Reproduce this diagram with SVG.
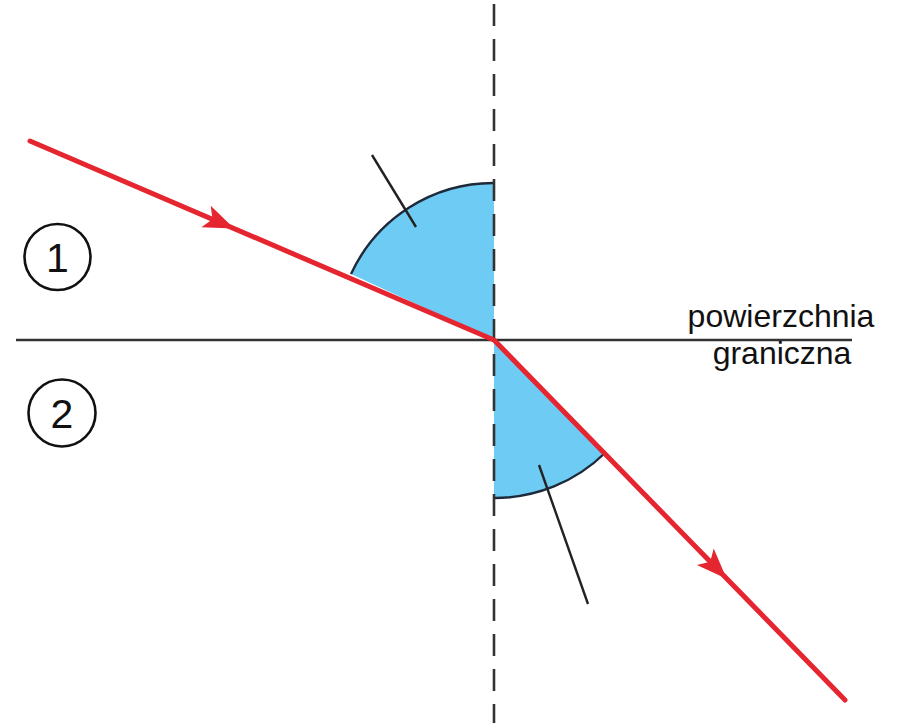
<svg xmlns="http://www.w3.org/2000/svg" width="897" height="723" viewBox="0 0 897 723">
<style>
.wedge{fill:#6ECBF3;stroke:none}
.arc{fill:none;stroke:#1E2A3A;stroke-width:2.4}
.ptr{stroke:#222;stroke-width:2.4;fill:none}
.ray{stroke:#E52630;stroke-width:5;fill:none;stroke-linecap:round;stroke-linejoin:round}
.num{fill:none;stroke:#111;stroke-width:2.6}
.t{font-family:"Liberation Sans",Arial,sans-serif;fill:#111}
</style>
<defs>
<marker id="ah" markerUnits="userSpaceOnUse" markerWidth="40" markerHeight="40" refX="0" refY="0" viewBox="-30 -15 34 30" orient="auto">
<path d="M2,0 L-24,-10 L-18,0 L-24,10 Z" fill="#E52630"/>
</marker>
</defs>
<rect width="897" height="723" fill="#fff"/>
<g id="angles">
<path class="wedge" d="M494,340 L494,183 A157,157 0 0 0 351,274 Z"/>
<path class="arc" d="M494,183 A157,157 0 0 0 351,274"/>
<path class="wedge" d="M494,340 L494,498 A158,158 0 0 0 605,453 Z"/>
<path class="arc" d="M494,498 A158,158 0 0 0 605,453"/>
<line class="ptr" x1="372" y1="155" x2="416" y2="227"/>
<line class="ptr" x1="539" y1="465" x2="588" y2="604"/>
</g>
<g id="normal">
<line x1="494" y1="4" x2="494" y2="723" stroke="#333" stroke-width="2.6" stroke-dasharray="22,13"/>
</g>
<g id="boundary">
<line x1="16" y1="340" x2="852" y2="340" stroke="#333" stroke-width="2.6"/>
<text class="t" x="781" y="327" font-size="32" text-anchor="middle">powierzchnia</text>
<text class="t" x="782" y="364" font-size="32" text-anchor="middle">graniczna</text>
</g>
<g id="medium1">
<circle class="num" cx="57.5" cy="257" r="33"/>
<text class="t" x="57.5" y="272" font-size="41" text-anchor="middle">1</text>
</g>
<g id="medium2">
<circle class="num" cx="62" cy="413" r="33.5"/>
<text class="t" x="62" y="428" font-size="41" text-anchor="middle">2</text>
</g>
<g id="connectors">
<polyline class="ray" points="30,141 494,340 845,700"/>
<path d="M30,141 L232,227.6" fill="none" stroke="none" marker-end="url(#ah)"/>
<path d="M494,340 L725,577" fill="none" stroke="none" marker-end="url(#ah)"/>
</g>
</svg>
